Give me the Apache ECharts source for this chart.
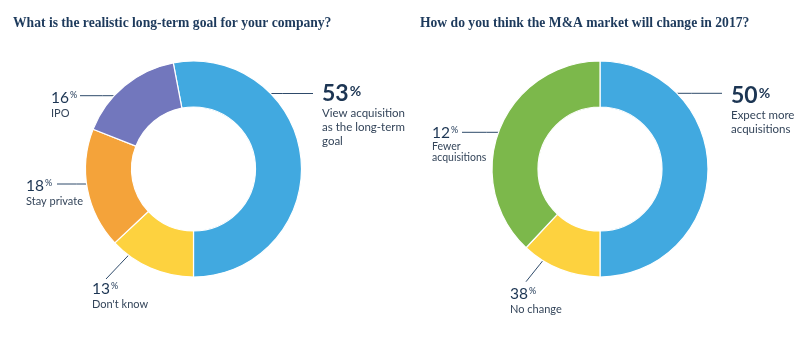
<!DOCTYPE html>
<html>
<head>
<meta charset="utf-8">
<script src="https://cdn.jsdelivr.net/npm/echarts@6/dist/echarts.min.js"></script>
<style>
html,body{margin:0;padding:0;background:#fff;}
#chart{width:800px;height:346px;}
</style>
</head>
<body>
<div id="chart"></div>
<script>
// ---- data ----
const leftTitle = 'What is the realistic long-term goal for your company?';
const rightTitle = 'How do you think the M&A market will change in 2017?';

const leftCategories = ['View acquisition as the long-term goal', "Don't know", 'Stay private', 'IPO'];
const leftValues = [53, 13, 18, 16];
const leftPctText = ['53', '13', '18', '16'];
const leftLabelLines = [['View acquisition', 'as the long-term', 'goal'], ["Don't know"], ['Stay private'], ['IPO']];

const rightCategories = ['Expect more acquisitions', 'No change', 'Fewer acquisitions'];
const rightValues = [50, 12, 38];
const rightPctText = ['50', '38', '12'];   // as printed in the source graphic
const rightLabelLines = [['Expect more', 'acquisitions'], ['No change'], ['Fewer', 'acquisitions']];

// ---- style / layout ----
const leftColors = ['#41a9e0', '#fdd23f', '#f4a33a', '#7277bd'];
const rightColors = ['#41a9e0', '#fdd23f', '#7cb84b'];
const numColor = '#1c3553';
const txtColor = '#34455a';
const lineColor = '#2e4a6a';
const FONT = 'Lato';

const leftCenter = [193.5, 169];
const rightCenter = [600, 169];
const radius = [62, 108];

// label block top-left, ring point offset from center, label-side line end
const leftLayout = [
  {x: 322, y: 81, big: true, ring: [58, -75.5], end: [313, 93.5]},
  {x: 92, y: 280, big: false, ring: [-59.5, 80.5], end: [106, 279]},
  {x: 26, y: 177, big: false, ring: [-97.5, 15], end: [57, 184]},
  {x: 51, y: 89, big: false, ring: [-68.5, -73.3], end: [80, 95.7]}
];
const rightLayout = [
  {x: 731, y: 83, big: true, ring: [60.7, -75.7], end: [722, 93.3]},
  {x: 510, y: 285, big: false, ring: [-46, 77.7], end: [526, 281.7]},
  {x: 432, y: 124, big: false, small: true, ring: [-89.3, -36.7], end: [462, 132.3]}
];

function labelText(pct, lines, L) {
  const sub = L.small ? 'ts' : (L.big ? 'tb' : 't');
  const head = L.big ? '{big|' + pct + '}{bp|%}' : '{num|' + pct + '}{np|%}';
  return head + '\n' + lines.map(s => '{' + sub + '|' + s + '}').join('\n');
}

const rich = {
  big: {fontFamily: FONT, fontSize: 23, fontWeight: 'bold', color: numColor, lineHeight: 25},
  bp: {fontFamily: FONT, fontSize: 14, fontWeight: 'bold', color: numColor, lineHeight: 25, verticalAlign: 'top', padding: [3, 0, 0, 1]},
  num: {fontFamily: FONT, fontSize: 15.5, color: numColor, lineHeight: 17},
  np: {fontFamily: FONT, fontSize: 9, color: numColor, lineHeight: 17, verticalAlign: 'top', padding: [2, 0, 0, 1]},
  tb: {fontFamily: FONT, fontSize: 11.5, color: txtColor, lineHeight: 14},
  t: {fontFamily: FONT, fontSize: 11, color: txtColor, lineHeight: 14},
  ts: {fontFamily: FONT, fontSize: 10.5, color: txtColor, lineHeight: 11}
};

function makeSeries(categories, values, colors, pctText, lines, layout, center, startAngle) {
  return {
    type: 'pie',
    center: center,
    radius: radius,
    startAngle: startAngle,
    clockwise: true,
    silent: true,
    animation: false,
    avoidLabelOverlap: false,
    itemStyle: {borderColor: '#ffffff', borderWidth: 1.2},
    data: categories.map((c, i) => ({
      name: c,
      value: values[i],
      itemStyle: {color: colors[i]},
      label: {formatter: labelText(pctText[i], lines[i], layout[i])}
    })),
    label: {show: true, position: 'outside', rich: rich, align: 'left', overflow: 'none', width: 200, bleedMargin: 0, edgeDistance: 0},
    labelLine: {show: true, length: 10, length2: 10, lineStyle: {color: lineColor, width: 1}},
    labelLayout: function (p) {
      const L = layout[p.dataIndex];
      const a = [center[0] + L.ring[0], center[1] + L.ring[1]];
      const b = L.end;
      return {
        x: L.x, y: L.y, align: 'left', verticalAlign: 'top',
        labelLinePoints: [a, [(a[0] + b[0]) / 2, (a[1] + b[1]) / 2], b]
      };
    }
  };
}

const titleStyle = {fontFamily: 'Liberation Serif', fontWeight: 'bold', fontSize: 13.6, color: '#1d3a5c'};
const chart = echarts.init(document.getElementById('chart'));
chart.setOption({
  backgroundColor: '#ffffff',
  animation: false,
  title: [
    {text: leftTitle, left: 13, top: 16, padding: 0, textStyle: titleStyle},
    {text: rightTitle, left: 420, top: 16, padding: 0, textStyle: titleStyle}
  ],
  series: [
    makeSeries(leftCategories, leftValues, leftColors, leftPctText, leftLabelLines, leftLayout, leftCenter, 100.8),
    makeSeries(rightCategories, rightValues, rightColors, rightPctText, rightLabelLines, rightLayout, rightCenter, 90)
  ]
});
</script>
</body>
</html>
